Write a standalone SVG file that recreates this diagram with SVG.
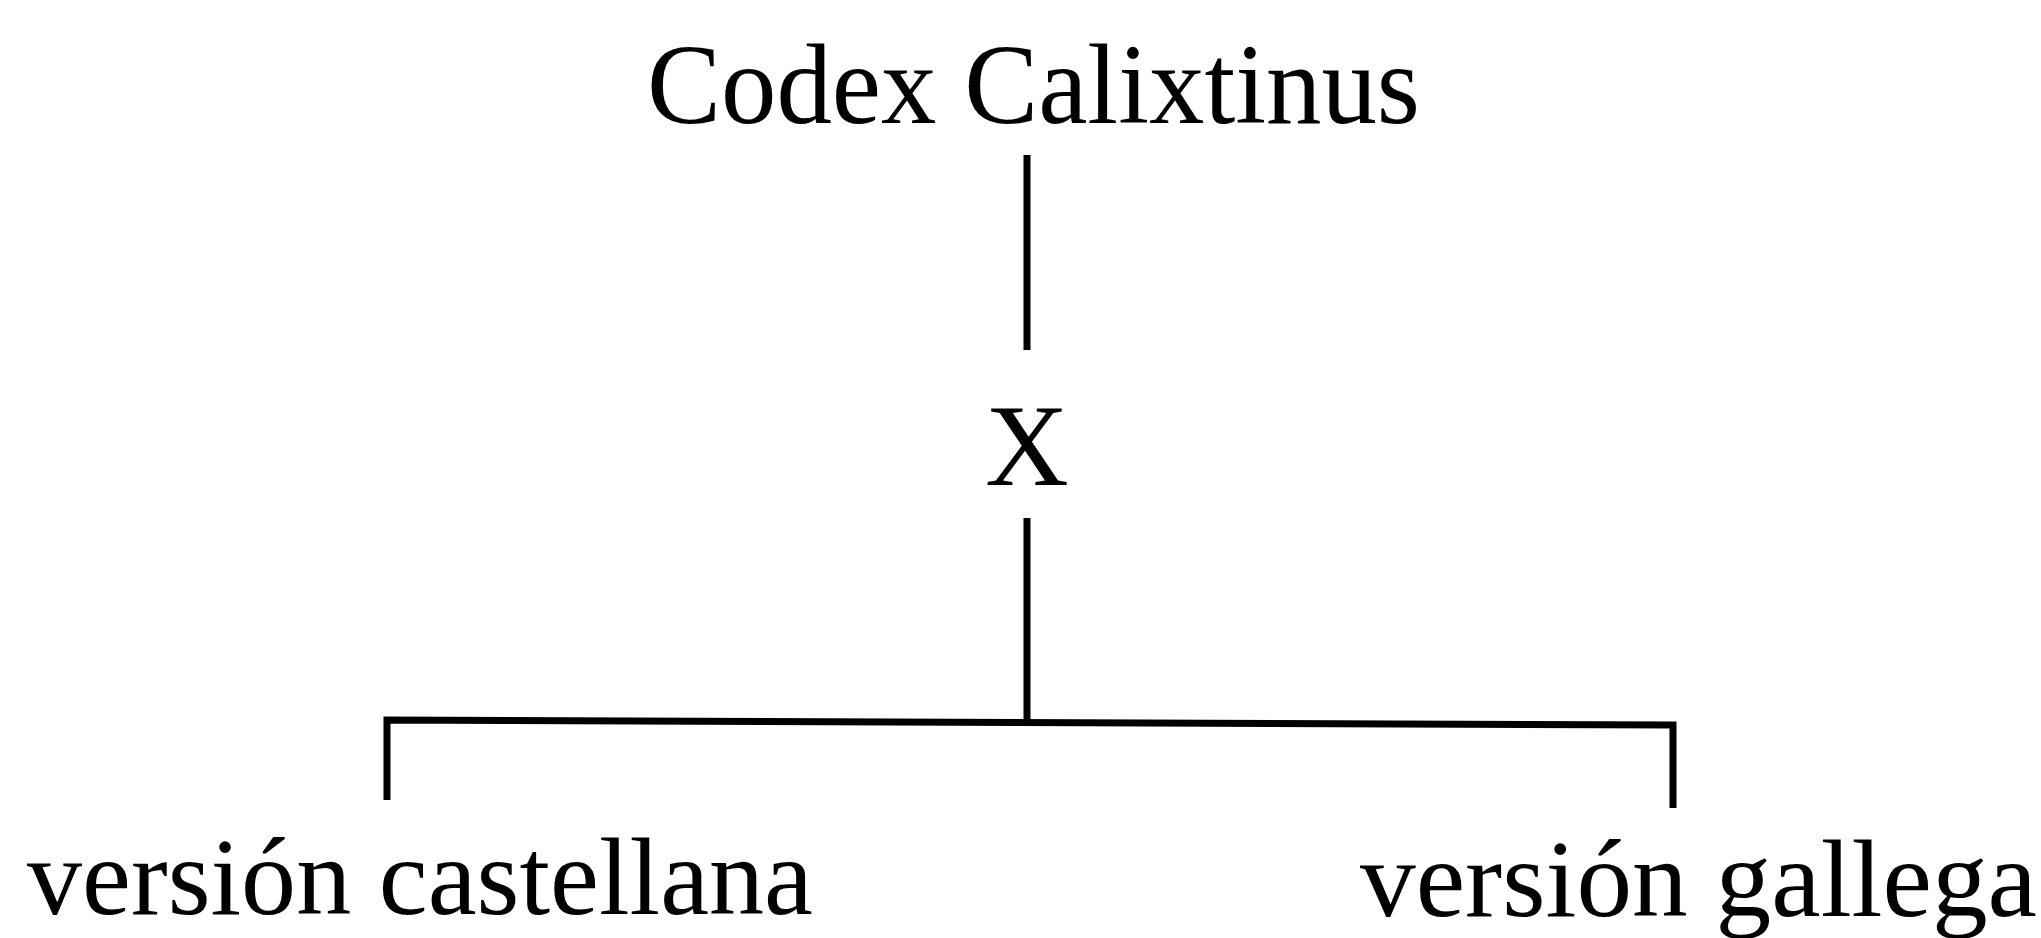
<svg xmlns="http://www.w3.org/2000/svg" width="2041" height="938" viewBox="0 0 2041 938">
  <style>
    .t { font-family: "Liberation Serif", "Times New Roman", serif; fill: #000; }
    .c { fill: none; stroke: #000; stroke-width: 7; stroke-linecap: butt; stroke-linejoin: miter; }
  </style>
  <rect width="2041" height="938" fill="#fff"/>
  <g id="connectors">
    <line class="c" x1="1027" y1="155" x2="1027" y2="350"/>
    <line class="c" x1="1027" y1="518" x2="1027" y2="720"/>
    <polyline class="c" points="387,800 387,720 1673,725 1673,808"/>
  </g>
  <g id="node-codex">
    <text class="t" x="647" y="123" font-size="114" textLength="773" lengthAdjust="spacingAndGlyphs">Codex Calixtinus</text>
  </g>
  <g id="node-x">
    <text class="t" x="1027" y="485" font-size="116" text-anchor="middle">X</text>
  </g>
  <g id="node-castellana">
    <text class="t" x="27" y="914" font-size="110" textLength="786" lengthAdjust="spacingAndGlyphs">versión castellana</text>
  </g>
  <g id="node-gallega">
    <text class="t" x="1360" y="916" font-size="110" textLength="677" lengthAdjust="spacingAndGlyphs">versión gallega</text>
  </g>
</svg>
